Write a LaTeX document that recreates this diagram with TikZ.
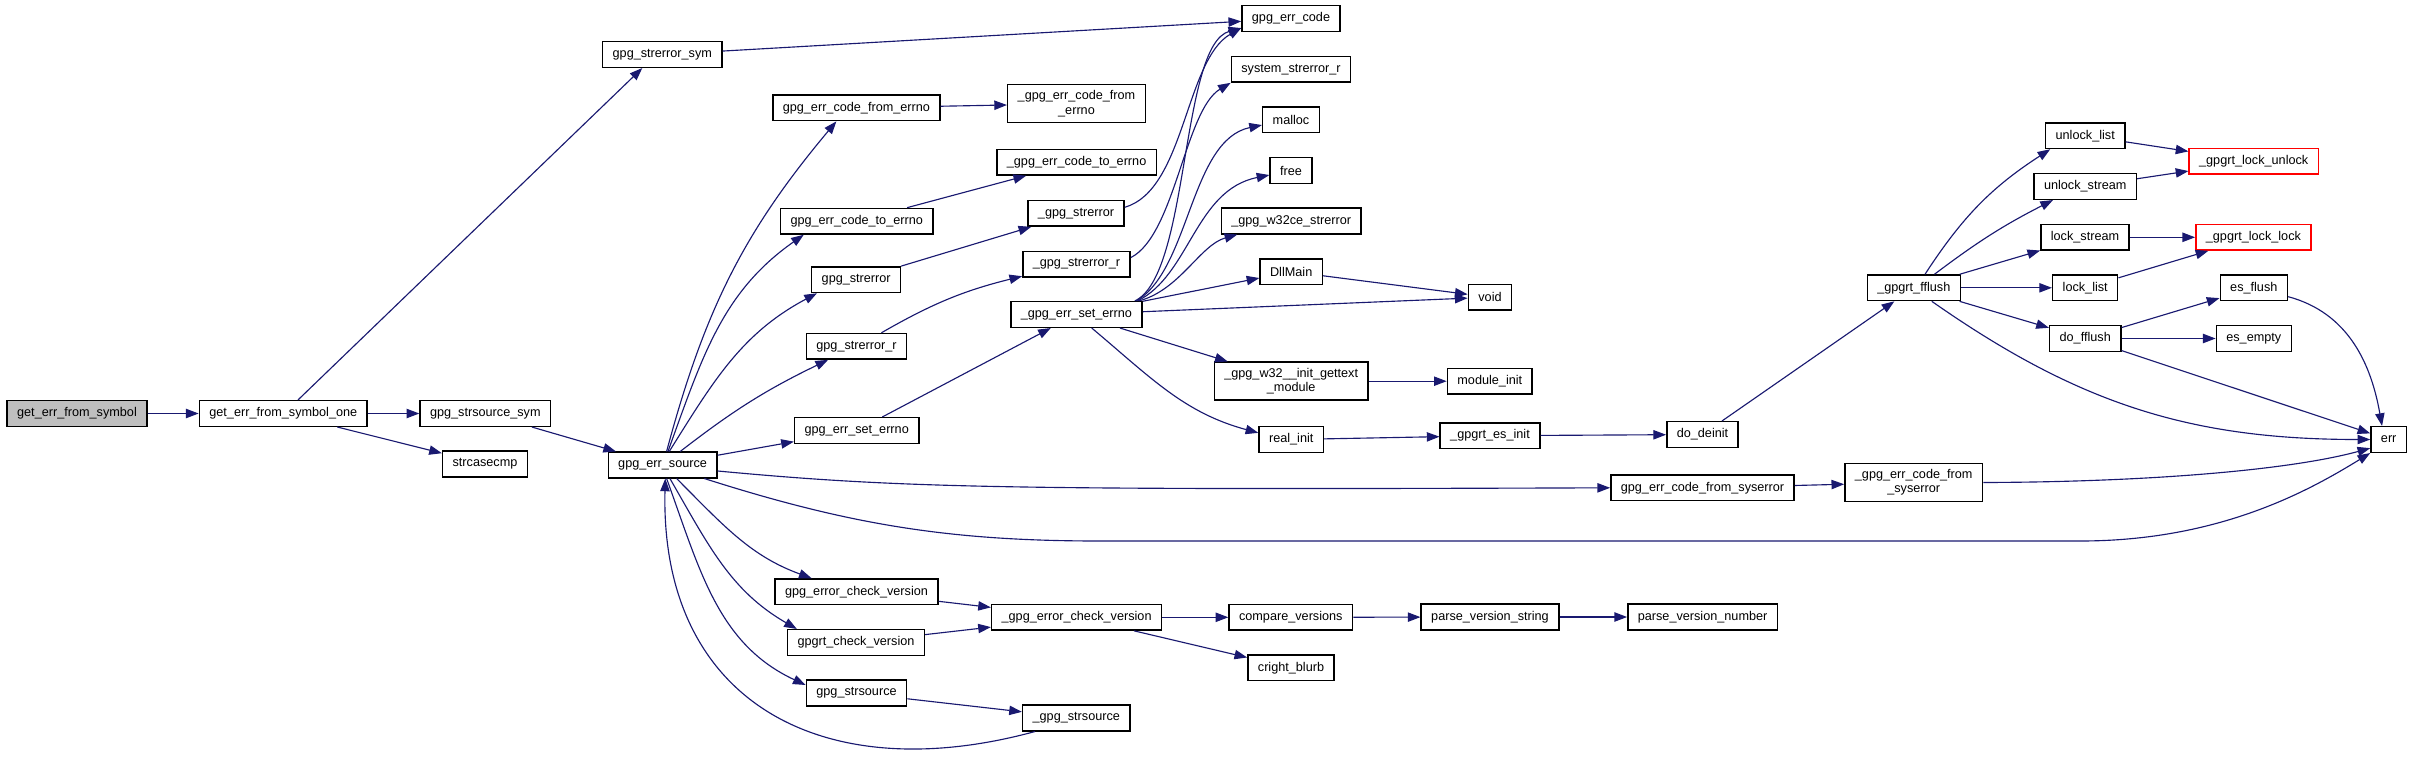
\documentclass[tikz,border=0pt]{standalone}
\usepackage{fontspec}
\setmainfont{Liberation Sans}
\usetikzlibrary{arrows.meta}
\definecolor{edgeblue}{HTML}{191970}
\definecolor{rootgray}{HTML}{BFBFBF}

\begin{document}
\begin{tikzpicture}[x=0.75pt, y=-0.75pt,
    every node/.style={font=\fontsize{9.5}{10.7}\selectfont},
    fn/.style={draw=black, line width=1.1pt, fill=white, inner xsep=7.5pt, inner ysep=4.5pt, minimum height=19.2pt, align=center},
    hot/.style={fn, draw=red},
    call/.style={draw=edgeblue, line width=0.85pt, -{Triangle[length=9.5pt, width=7pt]}}]
    \useasboundingbox (0,0) rectangle (2413,757);

    \node[fn, fill=rootgray] (sym) at (77,413.5) {get\_err\_from\_symbol};
    \node[fn] (symone) at (283.3,413.5) {get\_err\_from\_symbol\_one};
    \node[fn] (srcsym) at (485.3,413.5) {gpg\_strsource\_sym};
    \node[fn] (casecmp) at (485,464) {strcasecmp};
    \node[fn] (errsrc) at (662.6,465) {gpg\_err\_source};
    \node[fn] (errsym) at (662.3,54.5) {gpg\_strerror\_sym};
    \node[fn] (errcode) at (1291,18.5) {gpg\_err\_code};
    \node[fn] (fromerrno) at (856.4,107.8) {gpg\_err\_code\_from\_errno};
    \node[fn] (ifromerrno) at (1076.5,103.7) {\_gpg\_err\_code\_from\\\_errno};
    \node[fn] (toerrno) at (856.7,221.2) {gpg\_err\_code\_to\_errno};
    \node[fn] (itoerrno) at (1076.6,162.2) {\_gpg\_err\_code\_to\_errno};
    \node[fn] (strerr) at (856.2,279.7) {gpg\_strerror};
    \node[fn] (istrerr) at (1076,213.3) {\_gpg\_strerror};
    \node[fn] (strerrr) at (856.5,346.3) {gpg\_strerror\_r};
    \node[fn] (istrerrr) at (1076.5,264.2) {\_gpg\_strerror\_r};
    \node[fn] (seterrno) at (856.7,430.5) {gpg\_err\_set\_errno};
    \node[fn] (iseterrno) at (1076.4,314.5) {\_gpg\_err\_set\_errno};
    \node[fn] (syserr) at (1291,69.3) {system\_strerror\_r};
    \node[fn] (malloc) at (1291,119.7) {malloc};
    \node[fn] (free) at (1291,170.5) {free};
    \node[fn] (wce) at (1291.2,221) {\_gpg\_w32ce\_strerror};
    \node[fn] (dllmain) at (1291.2,271.7) {DllMain};
    \node[fn] (void) at (1490,297.2) {void};
    \node[fn] (gettext) at (1291.2,381.2) {\_gpg\_w32\_\_init\_gettext\\\_module};
    \node[fn] (modinit) at (1489.8,381.2) {module\_init};
    \node[fn] (realinit) at (1291.2,439.5) {real\_init};
    \node[fn] (esinit) at (1490,435.7) {\_gpgrt\_es\_init};
    \node[fn] (deinit) at (1702.5,434.5) {do\_deinit};
    \node[fn] (fromsys) at (1702.5,487.8) {gpg\_err\_code\_from\_syserror};
    \node[fn] (ifromsys) at (1913.7,482.5) {\_gpg\_err\_code\_from\\\_syserror};
    \node[fn] (fflush) at (1913.8,287.8) {\_gpgrt\_fflush};
    \node[fn] (unlist) at (2085.2,135.7) {unlock\_list};
    \node[fn] (unstream) at (2085.2,186.5) {unlock\_stream};
    \node[fn] (lstream) at (2085,237.3) {lock\_stream};
    \node[fn] (llist) at (2085.2,287.8) {lock\_list};
    \node[fn] (doflush) at (2085.2,338.5) {do\_fflush};
    \node[hot] (unlock) at (2253.7,161.3) {\_gpgrt\_lock\_unlock};
    \node[hot] (lock) at (2253.4,237.3) {\_gpgrt\_lock\_lock};
    \node[fn] (esflush) at (2253.8,287.8) {es\_flush};
    \node[fn] (esempty) at (2253.8,338.5) {es\_empty};
    \node[fn] (err) at (2388.7,439.5) {err};
    \node[fn] (chkver) at (856.5,591.8) {gpg\_error\_check\_version};
    \node[fn] (rtchk) at (856,642.5) {gpgrt\_check\_version};
    \node[fn] (ichkver) at (1076.6,617.3) {\_gpg\_error\_check\_version};
    \node[fn] (cmpver) at (1290.8,617.3) {compare\_versions};
    \node[fn] (blurb) at (1291,667.8) {cright\_blurb};
    \node[fn] (pvs) at (1490,617) {parse\_version\_string};
    \node[fn] (pvn) at (1702.6,617) {parse\_version\_number};
    \node[fn] (strsrc) at (856.5,693) {gpg\_strsource};
    \node[fn] (istrsrc) at (1076.3,718) {\_gpg\_strsource};

    \draw[call] (sym) -- (symone);
    \draw[call] ([xshift=11pt]symone.north) -- ([xshift=-15pt]errsym.south);
    \draw[call] (symone) -- (srcsym);
    \draw[call] (symone) -- (casecmp);
    \draw[call] (srcsym) -- (errsrc);
    \draw[call] (errsym) -- (errcode);
    \draw[call] ([xshift=3pt]errsrc.north) to[out=75,in=-130] ([xshift=-15pt]fromerrno.south);
    \draw[call] ([xshift=4pt]errsrc.north) to[out=70,in=-145] ([xshift=18pt]toerrno.south west);
    \draw[call] ([xshift=5pt]errsrc.north) to[out=58,in=-152] ([xshift=4.5pt]strerr.south west);
    \draw[call] (errsrc) to[bend left=6] (strerrr);
    \draw[call] (errsrc) -- (seterrno);
    \draw[call] ([yshift=-4.5pt]errsrc.east) .. controls (900,488) and (1000,490) .. (fromsys.west);
    \draw[call] ([xshift=-10pt]errsrc.south east) .. controls (850,525) and (950,541) .. (1100,541) -- (2080,541) .. controls (2220,541) and (2310,490) .. (err.south west);
    \draw[call] ([xshift=10.5pt]errsrc.south) to[out=-45,in=160] ([xshift=28pt]chkver.north west);
    \draw[call] ([xshift=5.5pt]errsrc.south) to[out=-60,in=150] ([xshift=7.5pt]rtchk.north west);
    \draw[call] ([xshift=3pt]errsrc.south) to[out=-70,in=155] ([yshift=6pt]strsrc.west);
    \draw[call] ([xshift=-31pt]istrsrc.south) .. controls (820,790) and (660,700) .. ([xshift=2pt]errsrc.south);
    \draw[call] (fromerrno) -- (ifromerrno);
    \draw[call] (toerrno) -- (itoerrno);
    \draw[call] (strerr) -- (istrerr);
    \draw[call] (strerrr) to[bend left=8] (istrerrr);
    \draw[call] (seterrno) -- (iseterrno);
    \draw[call] ([yshift=4.5pt]istrerr.east) .. controls (1185,190) and (1185,60) .. ([yshift=3pt]errcode.south west);
    \draw[call] ([yshift=5pt]istrerrr.east) .. controls (1175,235) and (1185,110) .. (syserr.south west);
    \draw[call] ([xshift=-6pt]iseterrno.north east) .. controls (1190,275) and (1180,45) .. ([yshift=3pt]errcode.south west);
    \draw[call] ([xshift=-5pt]iseterrno.north east) .. controls (1190,270) and (1190,140) .. ([yshift=-4pt]malloc.west);
    \draw[call] ([xshift=-4pt]iseterrno.north east) .. controls (1190,275) and (1195,190) .. ([yshift=-3.4pt]free.west);
    \draw[call] ([xshift=-3pt]iseterrno.north east) .. controls (1180,290) and (1200,245) .. ([xshift=12.5pt]wce.south west);
    \draw[call] (iseterrno) -- (dllmain);
    \draw[call] (iseterrno) -- (void);
    \draw[call] (dllmain) -- (void);
    \draw[call] (iseterrno) -- (gettext);
    \draw[call] ([xshift=11.5pt]iseterrno.south) to[out=-40,in=165] ([yshift=5pt]realinit.west);
    \draw[call] (gettext) -- (modinit);
    \draw[call] (realinit) -- (esinit);
    \draw[call] (esinit) -- (deinit);
    \draw[call] (deinit) -- (fflush);
    \draw[call] ([xshift=8.4pt]fflush.north) to[bend left=12] ([xshift=4pt]unlist.south west);
    \draw[call] ([xshift=15.5pt]fflush.north) to[bend left=5] ([xshift=14.8pt]unstream.south west);
    \draw[call] (fflush) -- (lstream);
    \draw[call] (fflush) -- (llist);
    \draw[call] (fflush) -- (doflush);
    \draw[call] ([xshift=13.5pt]fflush.south) to[out=-35,in=180] (err.west);
    \draw[call] (unlist) -- (unlock);
    \draw[call] (unstream) -- (unlock);
    \draw[call] (lstream) -- (lock);
    \draw[call] (llist) -- (lock);
    \draw[call] (doflush) -- (esflush);
    \draw[call] (doflush) -- (esempty);
    \draw[call] (doflush) -- (err);
    \draw[call] ([yshift=3.5pt]esflush.south east) to[out=-15,in=100] ([xshift=-5pt]err.north);
    \draw[call] (fromsys) -- (ifromsys);
    \draw[call] (ifromsys.east) .. controls (2150,482) and (2290,470) .. ([yshift=-6.5pt]err.west);
    \draw[call] (chkver) -- (ichkver);
    \draw[call] (rtchk) -- (ichkver);
    \draw[call] (ichkver) -- (cmpver);
    \draw[call] (ichkver) -- (blurb);
    \draw[call] (cmpver) -- (pvs);
    \draw[call] (pvs) -- (pvn);
    \draw[call] (strsrc) -- (istrsrc);
\end{tikzpicture}
\end{document}
